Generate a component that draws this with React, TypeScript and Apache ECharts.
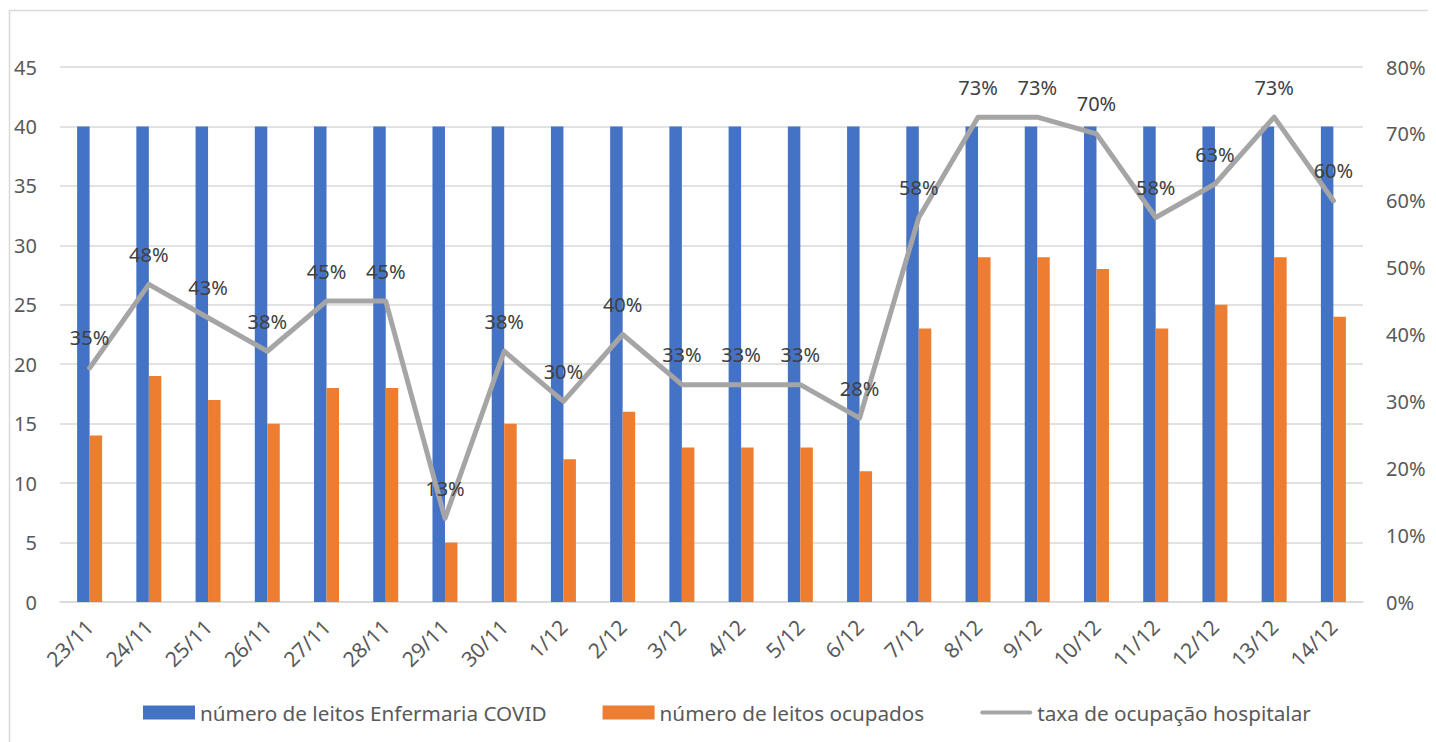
import React, { useEffect, useRef } from "react";
import * as echarts from "echarts";

const categories = ["23/11","24/11","25/11","26/11","27/11","28/11","29/11","30/11","1/12","2/12","3/12","4/12","5/12","6/12","7/12","8/12","9/12","10/12","11/12","12/12","13/12","14/12"];
const leitosTotal = [40,40,40,40,40,40,40,40,40,40,40,40,40,40,40,40,40,40,40,40,40,40];
const leitosOcupados = [14,19,17,15,18,18,5,15,12,16,13,13,13,11,23,29,29,28,23,25,29,24];
const taxaOcupacao = [35,47.5,42.5,37.5,45,45,12.5,37.5,30,40,32.5,32.5,32.5,27.5,57.5,72.5,72.5,70,57.5,62.5,72.5,60];
const leftTicks = { min: 0, max: 45, interval: 5 };
const rightTicks = { min: 0, max: 80, interval: 10 };

const FONT = "'Noto Sans', sans-serif";
const TXT = "#595959";

export default function App() {
  const ref = useRef<HTMLDivElement>(null);
  useEffect(() => {
    if (!ref.current) return;
    const chart = echarts.init(ref.current, undefined, { renderer: "svg" });
    chart.setOption({
      animation: false,
      textStyle: { fontFamily: FONT },
      graphic: [
        {
          type: "rect",
          shape: { x: 1.5, y: 2.5, width: 1440, height: 760 },
          style: { fill: "none", stroke: "#d9d9d9", lineWidth: 1.5 },
          silent: true,
        },
      ],
      grid: { left: 52, right: 73, top: 59, bottom: 140, containLabel: false },
      legend: {
        bottom: 14,
        left: 130,
        itemGap: 56,
        itemWidth: 52,
        itemHeight: 14,
        textStyle: { color: TXT, fontSize: 20.7, fontFamily: FONT },
        data: [
          { name: "número de leitos Enfermaria COVID", icon: "rect" },
          { name: "número de leitos ocupados", icon: "rect" },
          {
            name: "taxa de ocupação hospitalar",
            icon: "path://M2,0h48a2,2 0 0 1 0,4h-48a2,2 0 0 1 0,-4z",
            itemStyle: { color: "#a5a5a5", opacity: 1 },
          },
        ],
      },
      xAxis: {
        type: "category",
        data: categories,
        axisLine: { lineStyle: { color: "#d9d9d9", width: 1.5 } },
        axisTick: { show: false },
        axisLabel: { color: TXT, fontSize: 21, rotate: 45, margin: 21, interval: 0, fontFamily: FONT },
      },
      yAxis: [
        {
          type: "value",
          min: leftTicks.min,
          max: leftTicks.max,
          interval: leftTicks.interval,
          axisLine: { show: false },
          axisTick: { show: false },
          splitLine: { lineStyle: { color: "#d9d9d9", width: 1.5 } },
          axisLabel: { color: TXT, fontSize: 20, margin: 23, fontFamily: FONT },
        },
        {
          type: "value",
          min: rightTicks.min,
          max: rightTicks.max,
          interval: rightTicks.interval,
          axisLine: { show: false },
          axisTick: { show: false },
          splitLine: { show: false },
          axisLabel: { color: TXT, fontSize: 20, margin: 23, formatter: "{value}%", fontFamily: FONT },
        },
      ],
      series: [
        {
          name: "número de leitos Enfermaria COVID",
          type: "bar",
          data: leitosTotal,
          barWidth: 12.5,
          barGap: "0%",
          itemStyle: { color: "#4472c4" },
        },
        {
          name: "número de leitos ocupados",
          type: "bar",
          data: leitosOcupados,
          barWidth: 12.5,
          barGap: "0%",
          itemStyle: { color: "#ed7d31" },
        },
        {
          name: "taxa de ocupação hospitalar",
          type: "line",
          yAxisIndex: 1,
          data: taxaOcupacao,
          symbol: "circle",
          symbolSize: 2,
          showSymbol: true,
          showAllSymbol: true,
          lineStyle: { color: "#a5a5a5", width: 5, cap: "round", join: "round" },
          itemStyle: { color: "#a5a5a5" },
          label: {
            show: true,
            position: "top",
            distance: 19,
            color: "#404040",
            fontSize: 20,
            fontFamily: FONT,
            formatter: (p: any) => Math.round(p.value) + "%",
          },
          labelLayout: { hideOverlap: false },
          z: 5,
        },
      ],
    });
    return () => chart.dispose();
  }, []);
  return <div ref={ref} style={{ width: 1428, height: 734 }} />;
}
